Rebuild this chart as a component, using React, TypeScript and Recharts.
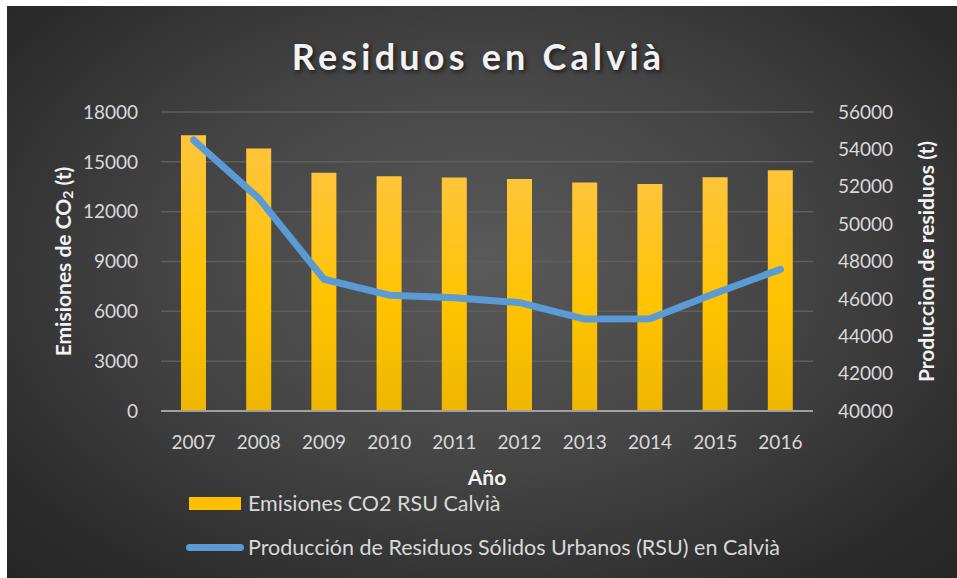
import React from "react";
import {
  ComposedChart,
  Bar,
  Line,
  XAxis,
  YAxis,
  CartesianGrid,
  Legend,
  Label,
} from "recharts";

const years = ["2007", "2008", "2009", "2010", "2011", "2012", "2013", "2014", "2015", "2016"];
const emisionesCO2 = [16600, 15800, 14350, 14130, 14050, 13970, 13750, 13670, 14070, 14500];
const produccionRSU = [54500, 51380, 47050, 46200, 46060, 45800, 44920, 44940, 46300, 47580];
const leftTicks = [0, 3000, 6000, 9000, 12000, 15000, 18000];
const rightTicks = [40000, 42000, 44000, 46000, 48000, 50000, 52000, 54000, 56000];

const data = years.map((year, i) => ({
  year,
  co2: emisionesCO2[i],
  rsu: produccionRSU[i],
}));

const FONT = "Lato, 'Open Sans', sans-serif";
const TICK = { fill: "#d9d9d9", fontSize: 19, fontFamily: FONT };
const TITLE_STYLE = { fill: "#f2f2f2", fontSize: 21, fontWeight: 700, fontFamily: FONT };

// legend drawn over the chart; its 80px height is taken out of the bottom margin
function LegendBox({ payload }: any) {
  const items = payload || [];
  return (
    <div style={{ fontFamily: FONT, fontSize: 21.5, color: "#d9d9d9", height: 80 }}>
      {items.map((item: any) => {
        const isLine = item.type === "line";
        return (
          <div
            key={item.value}
            style={{ display: "flex", alignItems: "center", height: isLine ? 46 : 26, marginTop: isLine ? 8 : 0 }}
          >
            {isLine ? (
              <span
                style={{
                  display: "inline-block",
                  width: 58,
                  height: 7,
                  borderRadius: 4,
                  background: item.color,
                  marginRight: 4,
                }}
              />
            ) : (
              <span
                style={{
                  display: "inline-block",
                  width: 52,
                  height: 13,
                  background: "#ffc000",
                  marginLeft: 3,
                  marginRight: 7,
                }}
              />
            )}
            <span>{item.value}</span>
          </div>
        );
      })}
    </div>
  );
}

export default function App() {
  return (
    <div style={{ position: "absolute", left: 0, top: 0, width: 957, height: 578, background: "#fff" }}>
      <div
        style={{
          position: "absolute",
          left: 7,
          top: 6,
          width: 950,
          height: 572,
          background: "radial-gradient(ellipse at 50% 45%, #5a5a5a 0%, #454545 45%, #2b2b2b 85%, #262626 100%)",
        }}
      />
      <div
        style={{
          position: "absolute",
          left: 0,
          top: 34,
          width: 957,
          textAlign: "center",
          fontFamily: FONT,
          fontWeight: 700,
          fontSize: 36,
          letterSpacing: 4.2,
          color: "#f2f2f2",
          textShadow: "2px 2px 4px rgba(0,0,0,0.6)",
        }}
      >
        Residuos en Calvià
      </div>
      <div style={{ position: "absolute", left: 0, top: 0 }}>
        <ComposedChart
          width={957}
          height={578}
          data={data}
          margin={{ top: 112, right: 0, bottom: 47, left: 0 }}
        >
          <defs>
            <linearGradient id="barFill" x1="0" y1="0" x2="0" y2="1">
              <stop offset="0%" stopColor="#ffc53a" />
              <stop offset="55%" stopColor="#ffc300" />
              <stop offset="100%" stopColor="#efb600" />
            </linearGradient>
          </defs>
          <CartesianGrid vertical={false} stroke="#5e5e5e" strokeWidth={1.5} yAxisId="left" />
          <XAxis
            dataKey="year"
            tick={TICK}
            tickLine={false}
            tickSize={0}
            tickMargin={25}
            height={40}
            axisLine={{ stroke: "#a0a0a0", strokeWidth: 2 }}
          >
            <Label value="Año" position="bottom" offset={19} style={TITLE_STYLE} />
          </XAxis>
          <YAxis
            yAxisId="left"
            orientation="left"
            width={161}
            domain={[0, 18000]}
            ticks={leftTicks}
            tick={TICK}
            tickLine={false}
            tickSize={0}
            tickMargin={23}
            axisLine={false}
            interval={0}
          >
            <Label
              content={(props: any) => {
                const vb = props.viewBox;
                const cx = vb.x + 62;
                const cy = vb.y + vb.height / 2;
                return (
                  <text
                    x={cx}
                    y={cy}
                    transform={`rotate(-90 ${cx} ${cy})`}
                    textAnchor="middle"
                    dominantBaseline="central"
                    style={TITLE_STYLE}
                  >
                    Emisiones de CO
                    <tspan fontSize={14} dy={5}>2</tspan>
                    <tspan dy={-5}> (t)</tspan>
                  </text>
                );
              }}
            />
          </YAxis>
          <YAxis
            yAxisId="right"
            orientation="right"
            width={144}
            domain={[40000, 56000]}
            ticks={rightTicks}
            tick={{ ...TICK, textAnchor: "start" }}
            tickLine={false}
            tickSize={0}
            tickMargin={25}
            axisLine={false}
            interval={0}
          >
            <Label
              content={(props: any) => {
                const vb = props.viewBox;
                const cx = vb.x + 112;
                const cy = vb.y + vb.height / 2;
                return (
                  <text
                    x={cx}
                    y={cy}
                    transform={`rotate(-90 ${cx} ${cy})`}
                    textAnchor="middle"
                    dominantBaseline="central"
                    style={TITLE_STYLE}
                  >
                    Produccion de residuos (t)
                  </text>
                );
              }}
            />
          </YAxis>
          <Bar
            yAxisId="left"
            dataKey="co2"
            name="Emisiones CO2 RSU Calvià"
            fill="url(#barFill)"
            barSize={25}
            isAnimationActive={false}
            legendType="rect"
          />
          <Line
            yAxisId="right"
            type="linear"
            dataKey="rsu"
            name="Producción de Residuos Sólidos Urbanos (RSU) en Calvià"
            stroke="#5b9bd5"
            strokeWidth={7}
            strokeLinecap="round"
            strokeLinejoin="round"
            dot={false}
            activeDot={false}
            isAnimationActive={false}
            legendType="line"
          />
          <Legend
            content={<LegendBox />}
            wrapperStyle={{ position: "absolute", left: 186, top: 490, width: 700, height: 80 }}
          />
        </ComposedChart>
      </div>
    </div>
  );
}
